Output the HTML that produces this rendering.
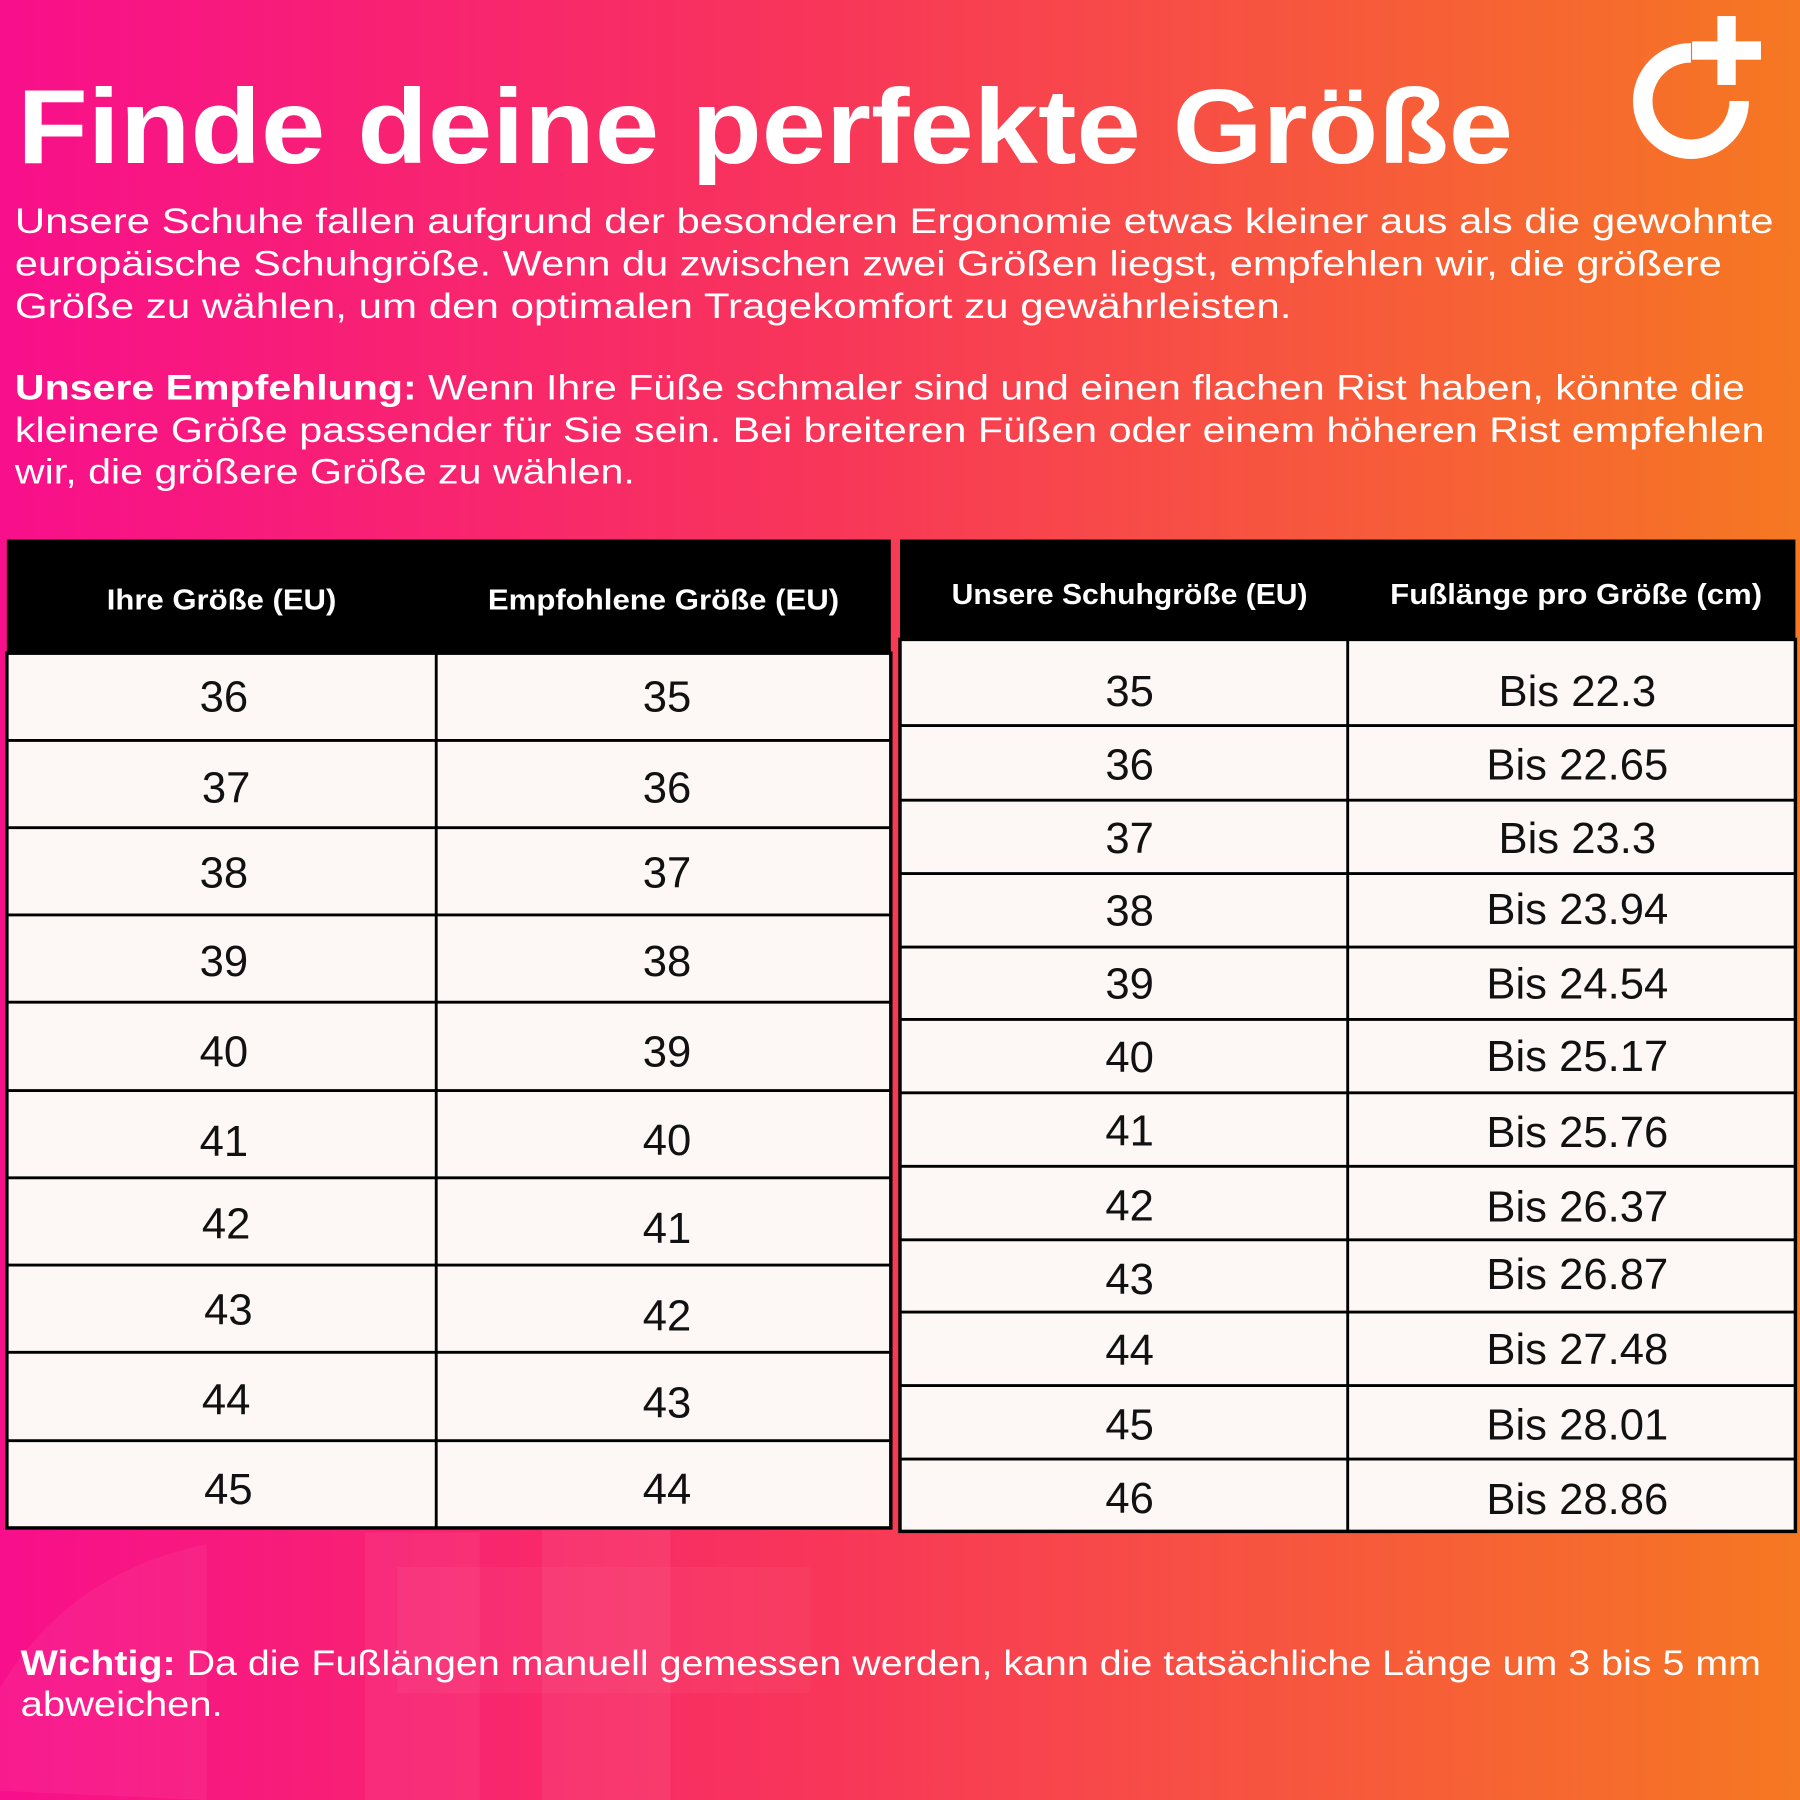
<!DOCTYPE html>
<html><head><meta charset="utf-8"><style>html,body{margin:0;padding:0;width:1800px;height:1800px;overflow:hidden}svg{display:block}</style></head>
<body>
<svg width="1800" height="1800" viewBox="0 0 1568 1568" xmlns="http://www.w3.org/2000/svg" font-family="Liberation Sans, sans-serif">
<defs>
<linearGradient id="bg" x1="0" y1="0" x2="1568" y2="0" gradientUnits="userSpaceOnUse">
<stop offset="0" stop-color="#f80f8b"/>
<stop offset="0.45" stop-color="#f8355a"/>
<stop offset="1" stop-color="#f67822"/>
</linearGradient>
</defs>
<rect width="1568" height="1568" fill="url(#bg)"/>
<!-- faint decorative shapes -->
<path d="M0,1560 L0,1470 Q60,1370 180,1345 L180,1568 Z" fill="#fff" opacity="0.05"/>
<rect x="318" y="1335" width="100" height="233" fill="#fff" opacity="0.05"/>
<rect x="472" y="1330" width="112" height="238" fill="#fff" opacity="0.06"/>
<rect x="346" y="1365" width="360" height="110" fill="#fff" opacity="0.04"/>
<!-- logo -->
<path d="M1473,46 A42,42 0 1,0 1515,88" fill="none" stroke="#fff" stroke-width="17"/>
<rect x="1496" y="14" width="16" height="60" fill="#fff"/>
<rect x="1474" y="36" width="60" height="16" fill="#fff"/>
<!-- title -->
<text x="15" y="142" font-size="92" font-weight="bold" fill="#fff" textLength="1303" lengthAdjust="spacingAndGlyphs">Finde deine perfekte Größe</text>
<g fill="#fff" font-size="31">
<text x="13" y="203" textLength="1532" lengthAdjust="spacingAndGlyphs">Unsere Schuhe fallen aufgrund der besonderen Ergonomie etwas kleiner aus als die gewohnte</text>
<text x="13" y="240" textLength="1487" lengthAdjust="spacingAndGlyphs">europäische Schuhgröße. Wenn du zwischen zwei Größen liegst, empfehlen wir, die größere</text>
<text x="13" y="277" textLength="1112" lengthAdjust="spacingAndGlyphs">Größe zu wählen, um den optimalen Tragekomfort zu gewährleisten.</text>
<text x="13" y="348" textLength="1507" lengthAdjust="spacingAndGlyphs"><tspan font-weight="bold">Unsere Empfehlung:</tspan> Wenn Ihre Füße schmaler sind und einen flachen Rist haben, könnte die</text>
<text x="13" y="385" textLength="1524" lengthAdjust="spacingAndGlyphs">kleinere Größe passender für Sie sein. Bei breiteren Füßen oder einem höheren Rist empfehlen</text>
<text x="13" y="421" textLength="540" lengthAdjust="spacingAndGlyphs">wir, die größere Größe zu wählen.</text>
<text x="18" y="1459" textLength="1516" lengthAdjust="spacingAndGlyphs"><tspan font-weight="bold">Wichtig:</tspan> Da die Fußlängen manuell gemessen werden, kann die tatsächliche Länge um 3 bis 5 mm</text>
<text x="18" y="1495" textLength="176" lengthAdjust="spacingAndGlyphs">abweichen.</text>
</g>
<!-- left table -->
<rect x="6" y="470" width="770" height="99" fill="#000"/>
<rect x="6" y="569" width="770" height="762" fill="#fdf8f5" stroke="#000" stroke-width="3"/>
<g stroke="#000" stroke-width="2.5">
<line x1="380" y1="569" x2="380" y2="1331"/>
<line x1="6" y1="645" x2="776" y2="645"/><line x1="6" y1="721" x2="776" y2="721"/>
<line x1="6" y1="797" x2="776" y2="797"/><line x1="6" y1="873" x2="776" y2="873"/>
<line x1="6" y1="950" x2="776" y2="950"/><line x1="6" y1="1026" x2="776" y2="1026"/>
<line x1="6" y1="1102" x2="776" y2="1102"/><line x1="6" y1="1178" x2="776" y2="1178"/>
<line x1="6" y1="1255" x2="776" y2="1255"/>
</g>
<g fill="#111" font-size="38" text-anchor="middle">
<text x="195" y="620">36</text><text x="581" y="620">35</text>
<text x="197" y="699">37</text><text x="581" y="699">36</text>
<text x="195" y="773">38</text><text x="581" y="773">37</text>
<text x="195" y="850">39</text><text x="581" y="850">38</text>
<text x="195" y="929">40</text><text x="581" y="929">39</text>
<text x="195" y="1007">41</text><text x="581" y="1006">40</text>
<text x="197" y="1079">42</text><text x="581" y="1083">41</text>
<text x="199" y="1154">43</text><text x="581" y="1159">42</text>
<text x="197" y="1232">44</text><text x="581" y="1235">43</text>
<text x="199" y="1310">45</text><text x="581" y="1310">44</text>
</g>
<!-- right table -->
<rect x="784" y="470" width="780" height="87" fill="#000"/>
<rect x="784" y="557" width="780" height="777" fill="#fdf8f5" stroke="#000" stroke-width="3"/>
<g stroke="#000" stroke-width="2.5">
<line x1="1174" y1="557" x2="1174" y2="1334"/>
<line x1="784" y1="632" x2="1564" y2="632"/><line x1="784" y1="697" x2="1564" y2="697"/>
<line x1="784" y1="761" x2="1564" y2="761"/><line x1="784" y1="825" x2="1564" y2="825"/>
<line x1="784" y1="888" x2="1564" y2="888"/><line x1="784" y1="952" x2="1564" y2="952"/>
<line x1="784" y1="1016" x2="1564" y2="1016"/><line x1="784" y1="1080" x2="1564" y2="1080"/>
<line x1="784" y1="1143" x2="1564" y2="1143"/><line x1="784" y1="1207" x2="1564" y2="1207"/>
<line x1="784" y1="1271" x2="1564" y2="1271"/>
</g>
<g fill="#fff" font-size="25" font-weight="bold" text-anchor="middle">
<text x="193" y="531" textLength="200" lengthAdjust="spacingAndGlyphs">Ihre Größe (EU)</text>
<text x="578" y="531" textLength="306" lengthAdjust="spacingAndGlyphs">Empfohlene Größe (EU)</text>
<text x="984" y="526" textLength="310" lengthAdjust="spacingAndGlyphs">Unsere Schuhgröße (EU)</text>
<text x="1373" y="526" textLength="324" lengthAdjust="spacingAndGlyphs">Fußlänge pro Größe (cm)</text>
</g>
<g fill="#111" font-size="38" text-anchor="middle">
<text x="984" y="615">35</text><text x="1374" y="615">Bis 22.3</text>
<text x="984" y="679">36</text><text x="1374" y="679">Bis 22.65</text>
<text x="984" y="743">37</text><text x="1374" y="743">Bis 23.3</text>
<text x="984" y="806">38</text><text x="1374" y="805">Bis 23.94</text>
<text x="984" y="870">39</text><text x="1374" y="870">Bis 24.54</text>
<text x="984" y="934">40</text><text x="1374" y="933">Bis 25.17</text>
<text x="984" y="998">41</text><text x="1374" y="999">Bis 25.76</text>
<text x="984" y="1063">42</text><text x="1374" y="1064">Bis 26.37</text>
<text x="984" y="1127">43</text><text x="1374" y="1123">Bis 26.87</text>
<text x="984" y="1189">44</text><text x="1374" y="1188">Bis 27.48</text>
<text x="984" y="1254">45</text><text x="1374" y="1254">Bis 28.01</text>
<text x="984" y="1318">46</text><text x="1374" y="1319">Bis 28.86</text>
</g>
</svg>
</body></html>
